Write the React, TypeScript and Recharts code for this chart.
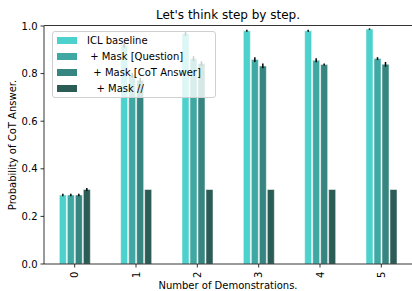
import React from 'react';
import { BarChart, Bar, XAxis, YAxis, ErrorBar, Customized } from 'recharts';

const categories = ['0', '1', '2', '3', '4', '5'];
const iclBaseline = [0.29, 0.92, 0.969, 0.98, 0.98, 0.987];
const maskQuestion = [0.29, 0.793, 0.863, 0.859, 0.856, 0.863];
const maskCotAnswer = [0.29, 0.772, 0.842, 0.832, 0.838, 0.839];
const maskSlash = [0.313, 0.313, 0.313, 0.313, 0.313, 0.313];
const iclErr = [0.005, 0.01, 0.01, 0.004, 0.004, 0.003];
const questionErr = [0.005, 0.01, 0.01, 0.01, 0.008, 0.006];
const cotErr = [0.005, 0.01, 0.01, 0.01, 0.004, 0.01];
const slashErr = [0.006, 0, 0, 0, 0, 0];
const yTicks = [0, 0.2, 0.4, 0.6, 0.8, 1.0];

const seriesNames = ['ICL baseline', ' + Mask [Question]', '  + Mask [CoT Answer]', '   + Mask //'];
const colors = ['#4dd1cc', '#3fa8a3', '#368580', '#2b5c56'];

const data = categories.map((c, i) => ({
  cat: c,
  icl: iclBaseline[i],
  q: maskQuestion[i],
  cot: maskCotAnswer[i],
  slash: maskSlash[i],
  iclErr: iclErr[i],
  qErr: questionErr[i],
  cotErr: cotErr[i],
  slashErr: slashErr[i],
}));

const FONT = 'DejaVu Sans, sans-serif';

const XTick = (props: any) => {
  const { x, payload } = props;
  const y = 271.5;
  return (
    <text
      x={x}
      y={y}
      transform={`rotate(-90, ${x}, ${y})`}
      textAnchor="end"
      dominantBaseline="central"
      fontSize={10}
      fontFamily={FONT}
      fill="#000"
    >
      {payload.value}
    </text>
  );
};

const LegendBox = () => (
  <div
    style={{
      position: 'absolute',
      left: 52,
      top: 31,
      background: 'rgba(255,255,255,0.8)',
      border: '1px solid #d0d0d0',
      borderRadius: 3,
      width: 164,
      height: 67,
      boxSizing: 'border-box',
      fontFamily: FONT,
      fontSize: 10,
      paddingTop: 0,
    }}
  >
    {seriesNames.map((n, i) => (
      <div key={i} style={{ display: 'flex', alignItems: 'center', height: 16, marginLeft: 4 }}>
        <div style={{ width: 20, height: 7, background: colors[i], marginRight: 10 }} />
        <span style={{ whiteSpace: 'pre', color: '#000' }}>{n}</span>
      </div>
    ))}
  </div>
);

const Decor = () => (
  <g>
    <line x1={44} x2={412} y1={25.5} y2={25.5} stroke="#000" strokeWidth={0.8} />
    <text x={228} y={15} textAnchor="middle" dominantBaseline="central" fontSize={12} fontFamily={FONT} fill="#000">
      Let's think step by step.
    </text>
    <text
      x={12}
      y={145}
      transform="rotate(-90, 12, 145)"
      textAnchor="middle"
      dominantBaseline="central"
      fontSize={10}
      fontFamily={FONT}
      fill="#000"
    >
      Probability of CoT Answer.
    </text>
    <text x={228} y={285} textAnchor="middle" dominantBaseline="central" fontSize={10} fontFamily={FONT} fill="#000">
      Number of Demonstrations.
    </text>
  </g>
);

export default function App() {
  const keys = ['icl', 'q', 'cot', 'slash'];
  const errs = ['iclErr', 'qErr', 'cotErr', 'slashErr'];
  return (
    <div style={{ position: 'absolute', left: 0, top: 0, width: 412, height: 291, background: '#fff' }}>
      <BarChart
        width={412}
        height={291}
        data={data}
        margin={{ top: 26, right: 0, left: 0, bottom: 0 }}
        barCategoryGap="25%"
        barGap={1}
      >
        <XAxis
          dataKey="cat"
          height={27}
          tick={<XTick />}
          tickSize={3.5}
          tickMargin={3.5}
          tickLine={{ stroke: '#000', strokeWidth: 0.8 }}
          axisLine={{ stroke: '#000', strokeWidth: 0.8 }}
          interval={0}
        />
        <YAxis
          width={44}
          domain={[0, 1]}
          ticks={yTicks}
          tickFormatter={(v: number) => v.toFixed(1)}
          tick={{ fontSize: 10, fontFamily: FONT, fill: '#000' }}
          tickSize={3.5}
          tickMargin={3}
          tickLine={{ stroke: '#000', strokeWidth: 0.8 }}
          axisLine={{ stroke: '#000', strokeWidth: 0.8 }}
          allowDataOverflow
        />
        {keys.map((k, i) => (
          <Bar key={k} dataKey={k} fill={colors[i]} isAnimationActive={false} stroke="#fff" strokeWidth={0.5}>
            <ErrorBar dataKey={errs[i]} width={0} stroke="#000" strokeWidth={1.5} />
          </Bar>
        ))}
        <Customized component={Decor} />
      </BarChart>
      <LegendBox />
    </div>
  );
}
